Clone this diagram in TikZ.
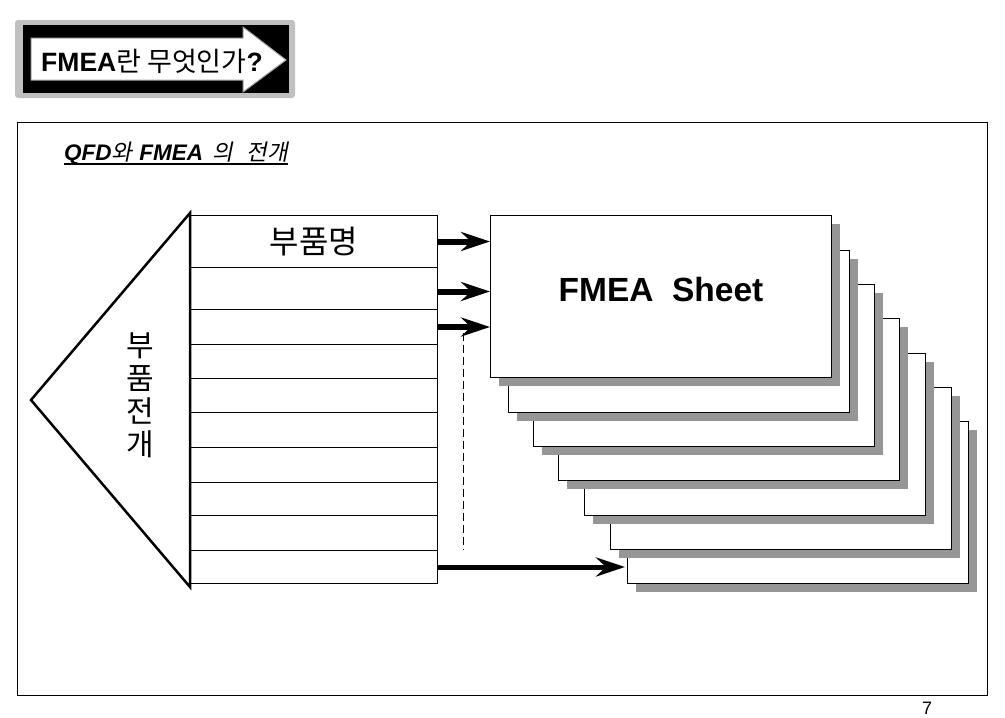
\documentclass[tikz,border=0pt]{standalone}
\usepackage{fontspec}
\setmainfont{Liberation Sans}
\newfontfamily\kr{Noto Sans CJK KR}
\newfontfamily\krsl[FakeSlant=0.2]{Noto Sans CJK KR}
\newcommand\krs[1]{{\krsl\mdseries\upshape #1}}
\usetikzlibrary{arrows.meta,calc}
\definecolor{shadowgray}{RGB}{150,150,150}
\definecolor{bannergray}{RGB}{192,192,192}
\definecolor{arrowedge}{RGB}{165,165,165}
\begin{document}
\begin{tikzpicture}[x=1pt,y=-1pt,
  sheet/.style={draw=black, line width=1.3pt, fill=white, minimum width=341pt,
    minimum height=162pt, anchor=north west, inner sep=0pt},
  rowbox/.style={draw=black, line width=1pt, minimum width=247pt,
    anchor=north west, inner sep=0pt},
  bigarrow/.style={line width=6pt, -{Stealth[length=29pt,width=19pt,inset=10pt]}},
  longarrow/.style={line width=5pt, -{Stealth[length=29pt,width=19pt,inset=10pt]}},
  dashline/.style={line width=1pt, dash pattern=on 8pt off 4pt},
]
\useasboundingbox[fill=white] (0,0) rectangle (1005,718);

% banner
\fill[bannergray, rounded corners=3pt] (15,20) rectangle (295,98);
\fill[black] (23,25) rectangle (289,93);
\draw[arrowedge, fill=white, line width=1pt]
  (31,38) -- (243,38) -- (243,27) -- (286,60) -- (243,92) -- (243,80) -- (31,80) -- cycle;
\node (title) at (152,61) {\fontsize{26.5}{30}\selectfont\bfseries FMEA{\kr\mdseries\fontsize{27}{30}\selectfont 란 무엇인가}?};

% frame
\draw[line width=1pt] (17,122) rectangle (987,695);

% subtitle
\node[anchor=base west, inner sep=0pt] (sub) at (64,160)
  {\fontsize{22.5}{25}\selectfont\bfseries\itshape QFD\krs{와}\hspace{7pt}FMEA\hspace{9pt}\krs{의}\hspace{14pt}\krs{전개}};
\draw[line width=1.5pt] ($(sub.base west)+(0,4)$) -- ($(sub.base east)+(0,4)$);

% stacked sheets
\foreach \n/\x/\y in {7/627/421, 6/610/387, 5/584/353, 4/558/318, 3/533/284, 2/508/250, 1/490/215} {
  \fill[shadowgray] (\x+9,\y+9) rectangle ++(341,162);
  \node[sheet] (s\n) at (\x,\y) {};
}
\node (sheettext) at (661,290) {\fontsize{33.5}{37}\selectfont\bfseries FMEA\ \ Sheet};

% triangle
\draw[line width=2.5pt, line join=miter] (190,213) -- (31,400) -- (190,587) -- cycle;
\node[align=center, inner sep=0pt, font={\kr\fontsize{30}{33}\selectfont}] (vert) at (140,395)
  {부\\품\\전\\개};

% table rows
\node[rowbox, minimum height=52pt, font={\kr\fontsize{32}{34}\selectfont}] (r1) at (190,215) {부품명};
\node[rowbox, minimum height=42pt] (r2) at (190,267) {};
\node[rowbox, minimum height=35pt] (r3) at (190,309) {};
\node[rowbox, minimum height=34pt] (r4) at (190,344) {};
\node[rowbox, minimum height=34pt] (r5) at (190,378) {};
\node[rowbox, minimum height=35pt] (r6) at (190,412) {};
\node[rowbox, minimum height=35pt] (r7) at (190,447) {};
\node[rowbox, minimum height=33pt] (r8) at (190,482) {};
\node[rowbox, minimum height=35pt] (r9) at (190,515) {};
\node[rowbox, minimum height=33pt] (r10) at (190,550) {};

% arrows
\draw[bigarrow] (r1.east) -- (r1.east -| s1.west);
\draw[bigarrow] ($(r2.east)+(0,3)$) -- ($(r2.east -| s1.west)+(0,3)$);
\draw[bigarrow] (r3.east) -- (r3.east -| s1.west);
\draw[longarrow] (r10.east) -- ($(r10.east -| s7.west)+(-2,0)$);

% dashed line
\coordinate (d1) at (463,333);
\coordinate (d2) at (463,550);
\draw[dashline] (d1) -- (d2);

% page number
\node[inner sep=0pt] (page) at (927,708) {\fontsize{18}{20}\selectfont 7};
\end{tikzpicture}
\end{document}
